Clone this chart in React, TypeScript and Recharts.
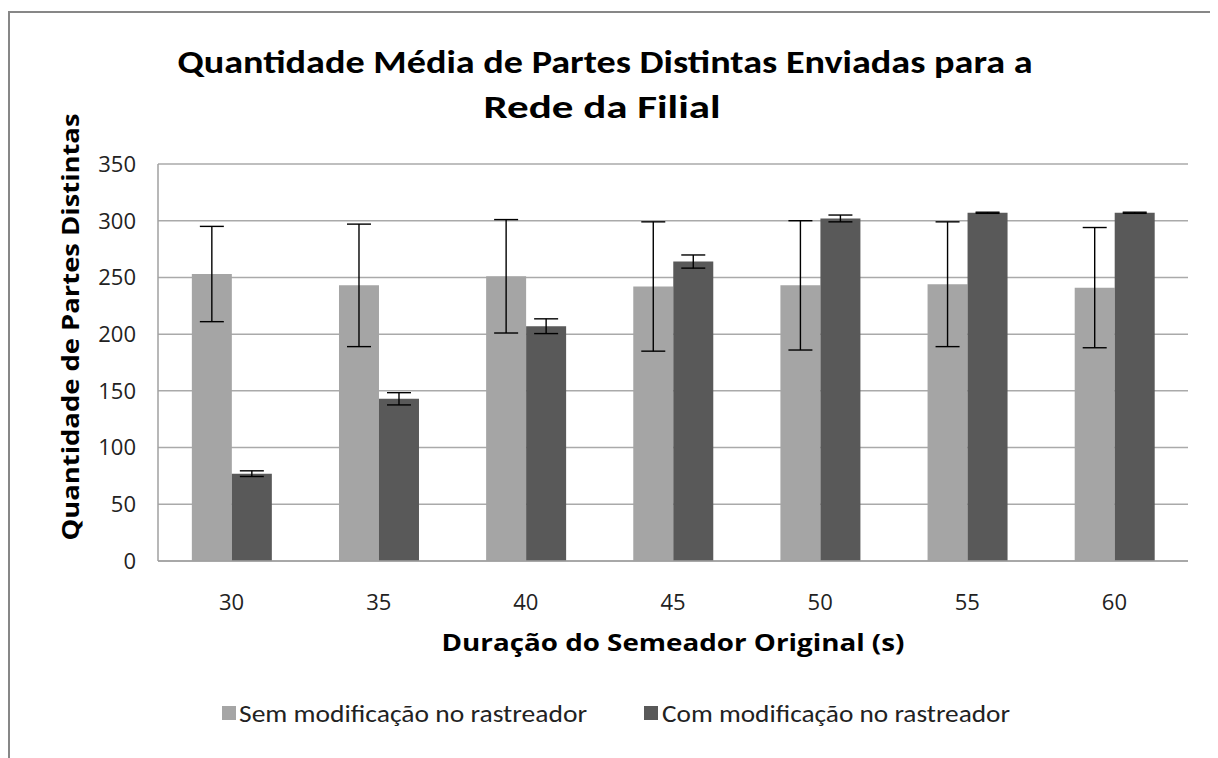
import { BarChart, Bar, XAxis, YAxis, CartesianGrid, ErrorBar, Legend, Label } from 'recharts';

const categories = ['30', '35', '40', '45', '50', '55', '60'];
const semValues = [253, 243, 251, 242, 243, 244, 241];
const semErrors = [42, 54, 50, 57, 57, 55, 53];
const comValues = [77, 143, 207, 264, 302, 307, 307];
const comErrors = [2.5, 5.4, 6.5, 5.8, 3, 0.5, 0.5];
const yTicks = [0, 50, 100, 150, 200, 250, 300, 350];

const seriesNames = ['Sem modificação no rastreador', 'Com modificação no rastreador'];
const titleLines = ['Quantidade Média de Partes Distintas Enviadas para a', 'Rede da Filial'];

const data = categories.map((c, i) => ({
  duracao: c,
  sem: semValues[i],
  semErr: semErrors[i],
  com: comValues[i],
  comErr: comErrors[i],
}));

const LIGHT = '#a5a5a5';
const DARK = '#595959';
const narrow = "Carlito, 'Liberation Sans Narrow', 'DejaVu Sans Condensed', 'Open Sans', sans-serif";
const wide = "'Open Sans', 'DejaVu Sans', sans-serif";

function renderLegend() {
  return (
    <svg width={1000} height={30} style={{ display: 'block' }}>
      <rect x={0} y={8} width={14} height={14} fill={LIGHT} />
      <text x={17} y={24} fontFamily={narrow} fontSize={25} fill="#222" textLength={348} lengthAdjust="spacingAndGlyphs">
        {seriesNames[0]}
      </text>
      <rect x={422} y={8} width={14} height={14} fill={DARK} />
      <text x={440} y={24} fontFamily={narrow} fontSize={25} fill="#222" textLength={348} lengthAdjust="spacingAndGlyphs">
        {seriesNames[1]}
      </text>
    </svg>
  );
}

function YTitle(props: any) {
  const { viewBox } = props;
  const x = viewBox.x - 28;
  const y = 319;
  return (
    <text
      x={x}
      y={y}
      transform={`rotate(-90 ${x} ${y})`}
      textAnchor="middle"
      dominantBaseline="central"
      fontFamily={wide}
      fontWeight="bold"
      fontSize={23}
      fill="#000"
      textLength={427}
      lengthAdjust="spacingAndGlyphs"
    >
      Quantidade de Partes Distintas
    </text>
  );
}

function XTitle(props: any) {
  const { viewBox } = props;
  return (
    <text
      x={viewBox.x + viewBox.width / 2}
      y={643}
      textAnchor="middle"
      fontFamily={wide}
      fontWeight="bold"
      fontSize={23}
      fill="#000"
      textLength={463}
      lengthAdjust="spacingAndGlyphs"
    >
      Duração do Semeador Original (s)
    </text>
  );
}

export default function App() {
  return (
    <div style={{ position: 'relative', width: 1210, height: 750, background: '#fff' }}>
      <div
        style={{
          position: 'absolute',
          left: 0,
          top: 3,
          width: 1210,
          height: 800,
          boxSizing: 'border-box',
          borderLeft: '2px solid #878787',
          borderTop: '2px solid #878787',
          borderRight: '1px solid #a0a0a0',
        }}
      />
      <svg width={1210} height={120} style={{ position: 'absolute', left: 0, top: 0 }}>
        <text x={597} y={65} textAnchor="middle" fontFamily={narrow} fontWeight="bold" fontSize={33} fill="#000" textLength={855} lengthAdjust="spacingAndGlyphs">
          {titleLines[0]}
        </text>
        <text x={594} y={110} textAnchor="middle" fontFamily={narrow} fontWeight="bold" fontSize={33} fill="#000" textLength={237} lengthAdjust="spacingAndGlyphs">
          {titleLines[1]}
        </text>
      </svg>
      <div style={{ position: 'absolute', left: 0, top: 0 }}>
        <BarChart
          width={1210}
          height={750}
          data={data}
          margin={{ top: 156, right: 30, bottom: 137, left: 90 }}
          barCategoryGap="23%"
          barGap={0}
        >
          <CartesianGrid vertical={false} stroke="#aaaaaa" strokeWidth={1.5} />
          <XAxis
            dataKey="duracao"
            height={30}
            tickLine={false}
            tickSize={0}
            tickMargin={33}
            axisLine={{ stroke: '#a0a0a0', strokeWidth: 1.5 }}
            tick={{ fill: '#222', fontSize: 22, fontFamily: wide }}
          >
            <Label content={XTitle} />
          </XAxis>
          <YAxis
            width={60}
            domain={[0, 350]}
            ticks={yTicks}
            tickLine={false}
            tickSize={0}
            tickMargin={22}
            axisLine={{ stroke: '#a0a0a0', strokeWidth: 1.5 }}
            tick={{ fill: '#222', fontSize: 22, fontFamily: wide }}
          >
            <Label content={YTitle} />
          </YAxis>
          <Legend
            content={renderLegend}
            wrapperStyle={{ position: 'absolute', left: 214, top: 690, width: 1000, height: 30 }}
          />
          <Bar dataKey="sem" name={seriesNames[0]} fill={LIGHT} isAnimationActive={false}>
            <ErrorBar dataKey="semErr" width={12} stroke="#000" strokeWidth={1.4} />
          </Bar>
          <Bar dataKey="com" name={seriesNames[1]} fill={DARK} isAnimationActive={false}>
            <ErrorBar dataKey="comErr" width={12} stroke="#000" strokeWidth={1.4} />
          </Bar>
        </BarChart>
      </div>
    </div>
  );
}
